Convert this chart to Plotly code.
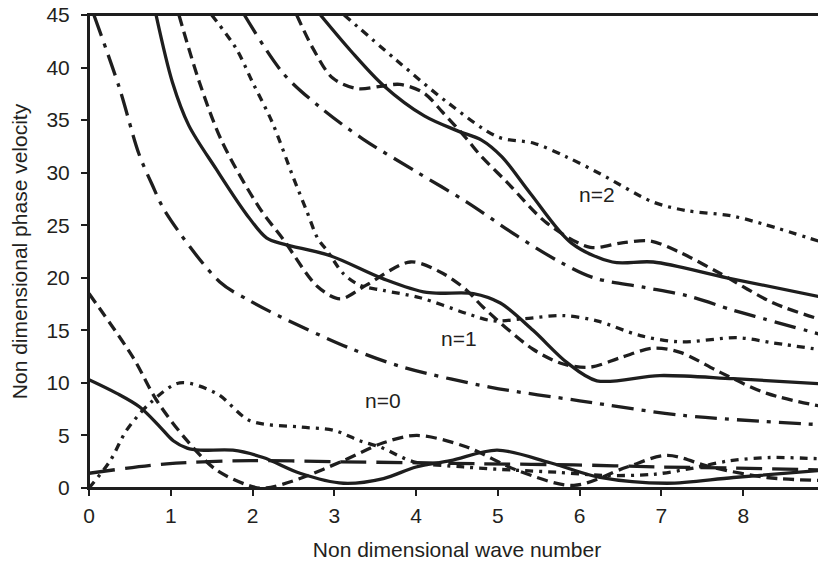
import plotly.graph_objects as go

# ---- data ----
n2_solid_x = [2.83, 3.2, 3.6, 4.1, 4.5, 4.8, 5.05, 5.4, 5.9, 6.4, 6.9, 7.8, 9.0]
n2_solid_y = [45, 41.6, 38.3, 35.4, 34.0, 33.1, 31.5, 28.0, 23.3, 21.5, 21.5, 20.0, 18.1]

n2_dash_x = [2.54, 2.74, 2.98, 3.28, 3.56, 3.8, 4.09, 4.33, 4.62, 4.78, 5.11, 5.6, 6.13, 6.5, 6.86, 7.23, 7.72, 8.37, 9.0]
n2_dash_y = [45, 41.8, 39.0, 38.0, 38.2, 38.4, 37.6, 35.7, 33.2, 31.7, 29.1, 25.2, 22.9, 23.3, 23.5, 22.4, 20.4, 17.6, 15.9]

n2_dashdot_x = [1.9, 2.38, 2.83, 3.35, 4.0, 4.62, 5.23, 5.76, 6.17, 6.78, 7.31, 7.88, 8.25, 9.0]
n2_dashdot_y = [45, 39.4, 36.2, 33.2, 30.1, 27.2, 24.0, 21.5, 20.0, 19.1, 18.3, 16.9, 16.1, 14.5]

n2_dotted_x = [3.12, 3.76, 4.38, 5.0, 5.44, 5.84, 6.25, 6.9, 7.3, 7.85, 8.25, 9.0]
n2_dotted_y = [45, 40.7, 36.7, 33.4, 32.8, 31.5, 29.9, 27.2, 26.4, 25.9, 25.1, 23.3]

n1_solid_x = [0.82, 1.02, 1.22, 1.55, 1.92, 2.17, 2.38, 2.95, 3.6, 4.13, 4.7, 5.03, 5.43, 5.85, 6.21, 6.98, 7.88, 9.0]
n1_solid_y = [45, 38.6, 34.5, 30.4, 26.1, 23.8, 23.2, 22.1, 19.9, 18.6, 18.5, 17.6, 15.0, 11.9, 10.2, 10.7, 10.4, 9.9]

n1_dash_x = [1.1, 1.35, 1.63, 2.08, 2.38, 2.79, 3.07, 3.39, 3.93, 4.33, 4.62, 4.82, 5.43, 5.8, 6.13, 6.5, 6.9, 7.23, 7.72, 8.29, 9.0]
n1_dash_y = [45, 38.6, 32.9, 26.7, 23.6, 19.2, 18.0, 19.3, 21.5, 20.4, 18.8, 17.2, 13.2, 11.8, 11.5, 12.4, 13.3, 12.9, 11.0, 9.0, 7.7]

n1_dashdot_x = [0.06, 0.37, 0.61, 0.77, 0.94, 1.6, 1.97, 2.34, 3.19, 3.84, 4.9, 6.0, 7.27, 9.0]
n1_dashdot_y = [45, 38.1, 31.8, 28.9, 26.2, 19.6, 17.8, 16.3, 13.3, 11.5, 9.6, 8.3, 6.9, 6.0]

n1_dotted_x = [1.5, 1.8, 2.0, 2.24, 2.5, 2.66, 2.8, 2.91, 3.11, 3.31, 3.6, 4.05, 4.62, 4.94, 5.31, 5.8, 6.21, 6.74, 7.23, 7.93, 8.37, 9.0]
n1_dotted_y = [45, 41.8, 38.6, 34.8, 29.5, 26.4, 23.7, 22.6, 20.4, 19.3, 18.8, 18.1, 16.6, 15.9, 16.1, 16.4, 15.9, 14.5, 13.9, 14.3, 13.8, 13.1]

n0_solid_x = [0, 0.34, 0.62, 0.87, 1.03, 1.2, 1.36, 1.76, 2.13, 2.58, 3.11, 3.6, 4.0, 4.42, 4.99, 5.64, 6.25, 7.07, 7.88, 9.0]
n0_solid_y = [10.3, 9.0, 7.7, 5.8, 4.5, 3.8, 3.6, 3.6, 2.9, 1.4, 0.45, 0.9, 2.0, 2.6, 3.6, 2.4, 1.0, 0.45, 1.0, 1.7]

n0_dash_x = [0, 0.54, 0.83, 1.2, 1.56, 2.01, 2.17, 2.58, 3.11, 3.6, 4.01, 4.62, 5.23, 5.93, 6.58, 7.07, 7.6, 8.29, 9.0]
n0_dash_y = [18.5, 12.4, 8.3, 4.5, 1.7, 0.1, 0.0, 0.9, 2.6, 4.3, 5.0, 3.9, 1.7, 0.25, 2.0, 3.1, 2.0, 1.0, 0.7]

n0_longdash_x = [0, 0.95, 1.97, 2.99, 4.01, 4.82, 5.93, 6.98, 7.88, 9.0]
n0_longdash_y = [1.4, 2.3, 2.6, 2.5, 2.4, 2.3, 2.2, 2.0, 1.9, 1.7]

n0_dotted_x = [0, 0.26, 0.46, 0.75, 1.11, 1.56, 1.97, 2.58, 2.99, 3.31, 3.56, 3.97, 4.58, 5.19, 5.72, 6.29, 6.9, 7.39, 7.84, 8.33, 8.9, 9.0]
n0_dotted_y = [0, 2.6, 5.5, 8.1, 10.0, 9.0, 6.4, 5.8, 5.5, 4.5, 3.9, 2.5, 2.0, 1.7, 1.5, 1.2, 1.3, 1.9, 2.6, 2.9, 2.8, 2.8]

label_text = ["n=2", "n=1", "n=0"]
label_x = [6.21, 4.52, 3.6]
label_y = [27.9, 14.2, 8.3]

x_ticks = [0, 1, 2, 3, 4, 5, 6, 7, 8, 9]
y_ticks = [0, 5, 10, 15, 20, 25, 30, 35, 40, 45]

# ---- styles ----
INK = "#1e1e1e"
TXT = "#231f20"
FONT = "Liberation Sans, Arial, sans-serif"
DASH = "11px,6px"
DASHDOT = "22px,8px,4px,8px"
DOTTED = "8px,6px,3px,6px"
LONGDASH = "26px,10px"

series = [
    (n2_solid_x, n2_solid_y, "solid"),
    (n2_dash_x, n2_dash_y, DASH),
    (n2_dashdot_x, n2_dashdot_y, DASHDOT),
    (n2_dotted_x, n2_dotted_y, DOTTED),
    (n1_solid_x, n1_solid_y, "solid"),
    (n1_dash_x, n1_dash_y, DASH),
    (n1_dashdot_x, n1_dashdot_y, DASHDOT),
    (n1_dotted_x, n1_dotted_y, DOTTED),
    (n0_solid_x, n0_solid_y, "solid"),
    (n0_dash_x, n0_dash_y, DASH),
    (n0_longdash_x, n0_longdash_y, LONGDASH),
    (n0_dotted_x, n0_dotted_y, DOTTED),
]

fig = go.Figure()
for xs, ys, dash in series:
    fig.add_trace(go.Scatter(
        x=xs, y=ys, mode="lines",
        line=dict(color=INK, width=3.3, dash=dash, shape="spline", smoothing=0.9),
        showlegend=False, hoverinfo="skip",
    ))

for t, lx, ly in zip(label_text, label_x, label_y):
    fig.add_annotation(x=lx, y=ly, text=t, showarrow=False,
                       font=dict(family=FONT, size=21, color=TXT))

# frame around the plotting area
fig.add_shape(type="rect", xref="paper", yref="paper", x0=0, x1=1, y0=0, y1=1,
              line=dict(color=INK, width=2), layer="above")

axis_common = dict(
    showgrid=False, zeroline=False, showline=True, linecolor=INK, linewidth=2,
    mirror=True, ticks="outside", ticklen=6, tickwidth=2, tickcolor=INK,
    automargin=False, ticklabeloverflow="allow",
    tickfont=dict(family=FONT, size=21, color=TXT),
)

# The page body has an 8px default margin, so the figure is sized/offset to compensate.
fig.update_layout(
    width=818, height=555,
    margin=dict(l=81, r=1, t=7, b=75),
    paper_bgcolor="white", plot_bgcolor="white",
    xaxis=dict(range=[0, 9], tickvals=x_ticks, ticklabelstandoff=2,
               title=dict(text="Non dimensional wave number", standoff=16,
                          font=dict(family=FONT, size=21, color=TXT)),
               **axis_common),
    yaxis=dict(range=[0, 45], tickvals=y_ticks, ticklabelstandoff=7,
               title=dict(text="Non dimensional phase velocity", standoff=14,
                          font=dict(family=FONT, size=21, color=TXT)),
               **axis_common),
)

fig.write_html("out.html")
